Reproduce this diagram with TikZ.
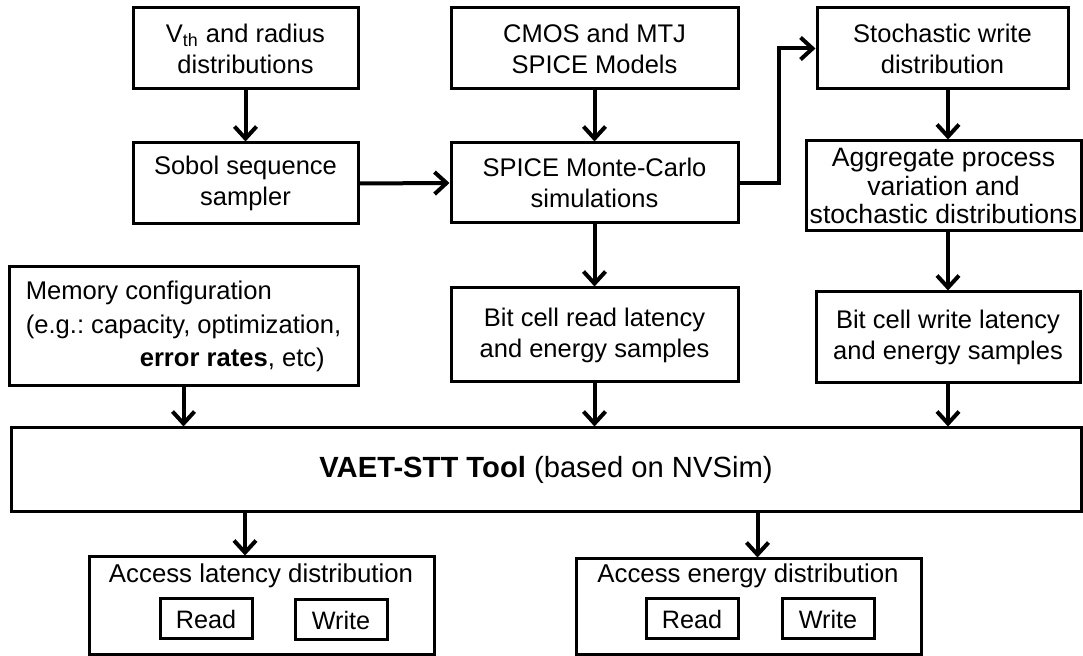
\documentclass[tikz,border=0pt]{standalone}
\usepackage{fontspec}
\setmainfont{Liberation Sans}
\frenchspacing
\usetikzlibrary{arrows.meta}
\begin{document}
\begin{tikzpicture}[x=0.5pt,y=-0.5pt,
  box/.style={draw, line width=1.5pt, inner sep=0pt, align=center, font=\fontsize{12.75}{15.5}\selectfont},
  smallbox/.style={draw, line width=1.5pt, inner sep=0pt, minimum width=46pt, minimum height=20pt, font=\fontsize{12.6}{15}\selectfont},
  lbl/.style={inner sep=0pt, font=\fontsize{12.9}{15}\selectfont},
  arr/.style={line width=2pt, -{Straight Barb[length=6pt,width=11pt]}},
]
\useasboundingbox (0,0) rectangle (1083,656);
% top row
\node[box, minimum width=112.5pt, minimum height=40.5pt] (vth) at (245.5,48.5) {V\textsubscript{th} and radius\\distributions};
\node[box, minimum width=143.5pt, minimum height=40.5pt] (cmos) at (594.5,48.5) {CMOS and MTJ\\SPICE Models};
\node[box, minimum width=125.5pt, minimum height=40.5pt] (stoch) at (942.5,48.5) {Stochastic write\\distribution};
% second row
\node[box, minimum width=112.5pt, minimum height=40.5pt] (sobol) at (245.5,183.5) {Sobol sequence\\sampler};
\node[box, minimum width=143.5pt, minimum height=40pt] (spice) at (594.5,183) {SPICE Monte-Carlo\\simulations};
\node[box, minimum width=137.5pt, minimum height=45pt, font=\fontsize{13.3}{14.2}\selectfont] (aggr) at (943.5,186) {Aggregate process\\variation and\\stochastic distributions};
% third row
\node[box, minimum width=174.5pt, minimum height=59.5pt, align=left, font=\fontsize{12.8}{16.8}\selectfont] (mem) at (183.5,326.5) {Memory configuration\\(e.g.: capacity, optimization,\\\hspace*{57pt}\textbf{error rates}, etc)};
\node[box, minimum width=143.5pt, minimum height=47pt] (read) at (594.5,335) {Bit cell read latency\\and energy samples};
\node[box, minimum width=132pt, minimum height=45.5pt] (write) at (948,337.5) {Bit cell write latency\\and energy samples};
% tool
\node[box, minimum width=535pt, minimum height=42pt, font=\fontsize{14.6}{17}\selectfont] (vaet) at (546,470) {\textbf{VAET-STT Tool} (based on NVSim)};
% outputs
\node[box, minimum width=172.5pt, minimum height=49pt] (lat) at (261.5,606) {};
\node[lbl] (latT) at (261,576) {Access latency distribution};
\node[smallbox] (latR) at (206,619) {Read};
\node[smallbox] (latW) at (341,620) {Write};
\node[box, minimum width=172.5pt, minimum height=48pt] (en) at (748.5,607) {};
\node[lbl] (enT) at (748,576) {Access energy distribution};
\node[smallbox] (enR) at (692,619) {Read};
\node[smallbox] (enW) at (828,619) {Write};
% connectors
\draw[arr] (vth.south) -- (sobol.north);
\draw[arr] (cmos.south) -- (spice.north);
\draw[arr] (sobol.east) -- (spice.west);
\draw[arr] (spice.east) -- ++(39,0) |- (stoch.west);
\draw[arr] (stoch.south -| write.north) -- (aggr.north -| write.north);
\draw[arr] (aggr.south -| write.north) -- (write.north);
\draw[arr] (spice.south) -- (read.north);
\draw[arr] (mem.south) -- (mem.south |- vaet.north);
\draw[arr] (read.south) -- (read.south |- vaet.north);
\draw[arr] (write.south) -- (write.south |- vaet.north);
\draw[arr] ([xshift=-8.25pt]vaet.south -| lat.north) -- ([xshift=-8.25pt]lat.north);
\draw[arr] ([xshift=4.5pt]vaet.south -| en.north) -- ([xshift=4.5pt]en.north);
\end{tikzpicture}
\end{document}
